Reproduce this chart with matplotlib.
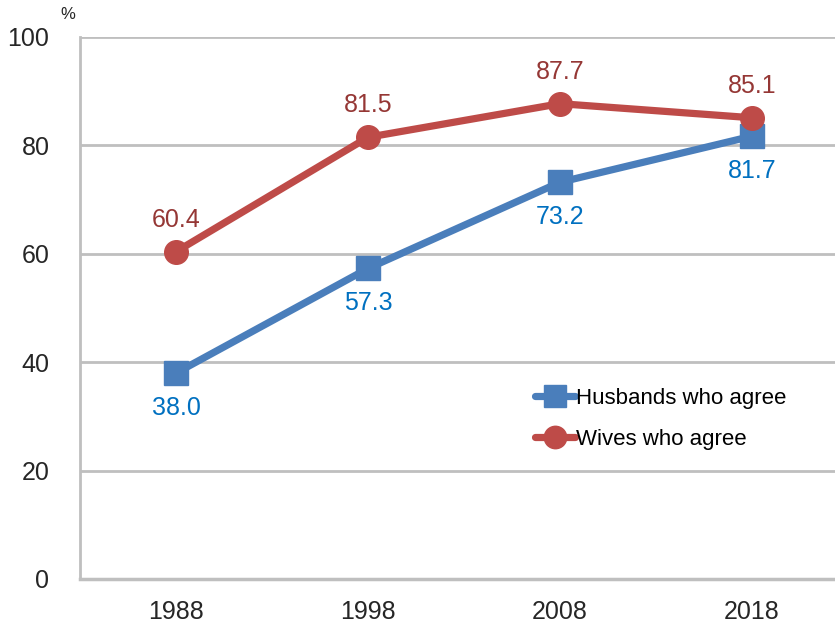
import matplotlib.pyplot as plt

plt.rcParams['font.family'] = ['Liberation Sans', 'DejaVu Sans']

years = ['1988', '1998', '2008', '2018']
husbands = [38.0, 57.3, 73.2, 81.7]
wives = [60.4, 81.5, 87.7, 85.1]

blue = '#4a7ebb'
red = '#be4b48'

fig = plt.figure(figsize=(8.35, 6.25), dpi=100)
ax = fig.add_axes([80 / 835, 46 / 625, 768 / 835, 542 / 625])

x = range(len(years))
ax.plot(x, husbands, color=blue, lw=5.2, marker='s', ms=17, label='Husbands who agree',
        solid_capstyle='round', zorder=3)
ax.plot(x, wives, color=red, lw=5.2, marker='o', ms=17, label='Wives who agree',
        solid_capstyle='round', zorder=3)

for i, v in enumerate(husbands):
    ax.annotate(f'{v:.1f}', (i, v), xytext=(0, -25), textcoords='offset points',
                ha='center', va='center', fontsize=18, color='#0070c0')
for i, v in enumerate(wives):
    ax.annotate(f'{v:.1f}', (i, v), xytext=(0, 23), textcoords='offset points',
                ha='center', va='center', fontsize=18, color='#953735')

ax.set_xlim(-0.5, 3.5)
ax.set_ylim(0, 100)
ax.set_yticks(range(0, 101, 20))
ax.set_xticks(list(x))
ax.set_xticklabels(years)
ax.grid(axis='y', color='#bfbfbf', lw=2)
ax.set_axisbelow(True)
for s in ['top', 'right']:
    ax.spines[s].set_visible(False)
ax.spines['left'].set_color('#bfbfbf')
ax.spines['left'].set_linewidth(2)
ax.spines['bottom'].set_color('#bfbfbf')
ax.spines['bottom'].set_linewidth(2.5)
ax.tick_params(length=0, labelsize=18, colors='#262626')
ax.tick_params(axis='x', pad=15)
ax.tick_params(axis='y', pad=22)

ax.text(-0.016, 1.042, '%', transform=ax.transAxes, fontsize=12, color='#262626',
        ha='center', va='center')

ax.legend(loc='upper left', bbox_to_anchor=(0.592, 0.353), frameon=False, fontsize=16,
          handlelength=1.8, handletextpad=0.05, labelspacing=0.9, borderaxespad=0,
          borderpad=0, markerscale=0.95)

fig.savefig('out.png', dpi=100)
